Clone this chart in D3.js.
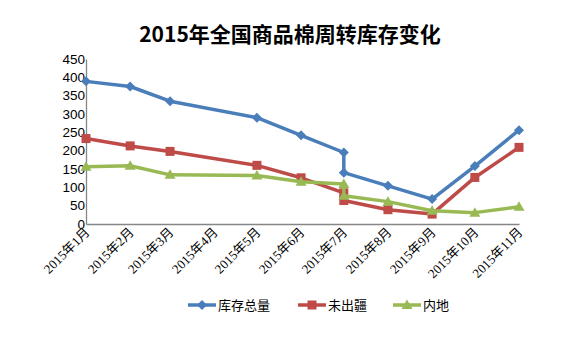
<!DOCTYPE html>
<html><head><meta charset="utf-8">
<script src="https://cdn.jsdelivr.net/npm/d3@7"></script>
<style>body{margin:0;background:#fff}svg{display:block}</style>
</head><body>
<script>
const title = "2015年全国商品棉周转库存变化";
const dates = ["2015-01-01","2015-02-01","2015-03-01","2015-05-01","2015-06-01","2015-07-01","2015-07-01","2015-08-01","2015-09-01","2015-10-01","2015-11-01"];
const tickDates = ["2015-01-01","2015-02-01","2015-03-01","2015-04-01","2015-05-01","2015-06-01","2015-07-01","2015-08-01","2015-09-01","2015-10-01","2015-11-01"];
const tickLabels = ["2015年1月","2015年2月","2015年3月","2015年4月","2015年5月","2015年6月","2015年7月","2015年8月","2015年9月","2015年10月","2015年11月"];
const yTicks = [0,50,100,150,200,250,300,350,400,450];
const seriesNames = ["库存总量","未出疆","内地"];
const totalStock = [389,375,335,290,242,195,140,104,68,158,256];
const notShipped = [233,213,198,160,126,85,64,39,27,127,209];
const inland = [156,159,134,132,115,109,77,61,36,31,47];
const colors = ["#4A7EBB","#BE4B48","#98B954"];
const markers = ["diamond","square","triangle"];

const W=579,H=356;
const svg=d3.select("body").append("svg").attr("width",W).attr("height",H);
const parse=d3.utcParse("%Y-%m-%d");
const x=d3.scaleUtc().domain([parse(tickDates[0]),parse(tickDates[tickDates.length-1])]).range([86,519]);
const y=d3.scaleLinear().domain([0,450]).range([224,59]);

svg.append("text").attr("x",290).attr("y",42).attr("text-anchor","middle")
  .attr("font-family","'Noto Sans CJK SC','Noto Sans',sans-serif").attr("font-weight","bold")
  .attr("font-size",21).attr("fill","#000").text(title);

// y axis
const yAxis=d3.axisLeft(y).tickValues(yTicks).tickSize(0).tickPadding(1);
const gy=svg.append("g").attr("transform","translate(86,0)").call(yAxis);
gy.select(".domain").attr("stroke","#868686").attr("stroke-width",1.3);
gy.selectAll("text").attr("font-family","'Liberation Sans',Arial,sans-serif").attr("font-size",13.5).attr("fill","#000");

// x axis
const xAxis=d3.axisBottom(x).tickValues(tickDates.map(parse)).tickSize(0).tickFormat((d,i)=>tickLabels[i]);
const gx=svg.append("g").attr("transform","translate(0,224)").call(xAxis);
gx.select(".domain").attr("stroke","#868686").attr("stroke-width",1.3);
gx.selectAll("text").attr("font-family","'Liberation Serif','Noto Sans CJK SC',serif").attr("font-size",13).attr("fill","#000")
  .attr("text-anchor","end").attr("dy",0).attr("y",0)
  .attr("transform","translate(4,9) rotate(-45)");

const series=[totalStock,notShipped,inland];
const line=d3.line().x((d,i)=>x(parse(dates[i]))).y(d=>y(d));
const symType={diamond:d3.symbolDiamond2,square:d3.symbolSquare,triangle:d3.symbolTriangle};
const symSize={diamond:70,square:80,triangle:75};
function drawMarker(g,type,cx,cy,col){
  if(type==="diamond"){
    g.append("path").attr("d",`M${cx},${cy-5}L${cx+5},${cy}L${cx},${cy+5}L${cx-5},${cy}Z`).attr("fill",col);
  } else if(type==="square"){
    g.append("rect").attr("x",cx-4.5).attr("y",cy-4.5).attr("width",9).attr("height",9).attr("fill",col);
  } else {
    g.append("path").attr("d",`M${cx},${cy-5.5}L${cx+5.5},${cy+4}L${cx-5.5},${cy+4}Z`).attr("fill",col);
  }
}
series.forEach((s,k)=>{
  const g=svg.append("g");
  g.append("path").datum(s).attr("d",line).attr("fill","none").attr("stroke",colors[k]).attr("stroke-width",3.5).attr("stroke-linejoin","round");
  s.forEach((v,i)=>drawMarker(g,markers[k],x(parse(dates[i])),y(v),colors[k]));
});

// legend
const legX=[188,298,393];
seriesNames.forEach((n,k)=>{
  const g=svg.append("g");
  g.append("line").attr("x1",legX[k]).attr("x2",legX[k]+28).attr("y1",305).attr("y2",305).attr("stroke",colors[k]).attr("stroke-width",3.5);
  drawMarker(g,markers[k],legX[k]+14,305,colors[k]);
  g.append("text").attr("x",legX[k]+30).attr("y",310).attr("font-family","'Noto Sans CJK SC',sans-serif").attr("font-size",13).attr("fill","#000").text(n);
});
</script>
</body></html>
